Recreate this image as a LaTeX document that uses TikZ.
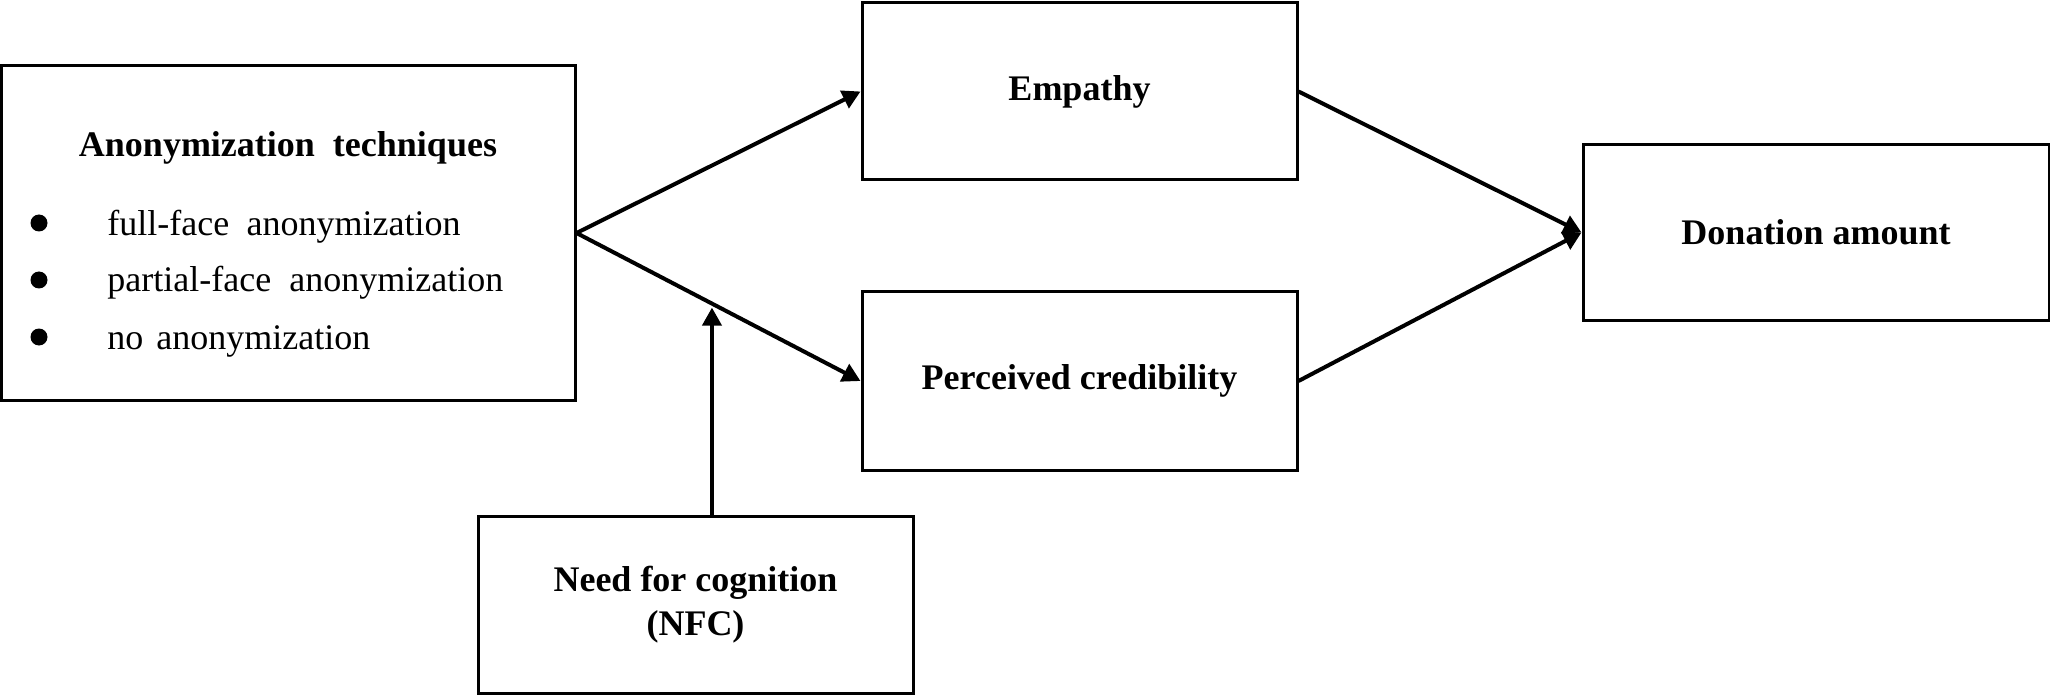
\documentclass[tikz,border=0pt]{standalone}
\usepackage{fontspec}
\setmainfont{Liberation Serif}
\usetikzlibrary{arrows.meta,calc}
\begin{document}
\begin{tikzpicture}[x=0.5pt,y=-0.5pt,
  box/.style={draw,line width=1.5pt,inner sep=0pt,font=\fontsize{18}{22}\selectfont\bfseries,align=center},
  arr/.style={line width=2pt,-{Triangle[length=9pt,width=9.5pt]}},
  txt/.style={inner sep=0pt,font=\fontsize{18}{22}\selectfont,anchor=base west},
  dot/.style={circle,fill,inner sep=0pt,minimum size=8.5pt}
]
\useasboundingbox (0,0) rectangle (2050,695);

% boxes
\node[box,minimum width=287pt,minimum height=167pt] (A) at (288,233) {};
\node[box,minimum width=217.5pt,minimum height=88.5pt] (E) at (1079.5,91.5) {Empathy};
\node[box,minimum width=217.5pt,minimum height=89pt] (P) at (1079.5,381) {Perceived credibility};
\node[box,minimum width=233pt,minimum height=87.5pt] (D) at (1816,232.5) {Donation amount};
\node[box,minimum width=217.5pt,minimum height=88.5pt] (N) at (695.5,604.5) {Need for cognition\\(NFC)};

% contents of the left box
\node[inner sep=0pt,font=\fontsize{18}{22}\selectfont\bfseries,anchor=base] (At) at (288,157) {Anonymization\hspace{0.5em}techniques};
\node[dot] (b1) at (39,223) {};
\node[dot] (b2) at (39,280) {};
\node[dot] (b3) at (39,337) {};
\node[txt] (t1) at (107,235) {full-face\hspace{0.48em}anonymization};
\node[txt] (t2) at (107,292) {partial-face\hspace{0.5em}anonymization};
\node[txt] (t3) at (107,349) {no\hspace{0.36em}anonymization};

% connectors
\draw[arr] (A.east) -- (E.west);
\draw[arr] (A.east) -- (P.west);
\draw[arr] (E.east) -- (D.west);
\draw[arr] (P.east) -- (D.west);
\coordinate (m) at ($(A.east)!0.477!(P.west)$);
\draw[arr,shorten >=2pt] (N.north -| m) -- (m);
\end{tikzpicture}
\end{document}
